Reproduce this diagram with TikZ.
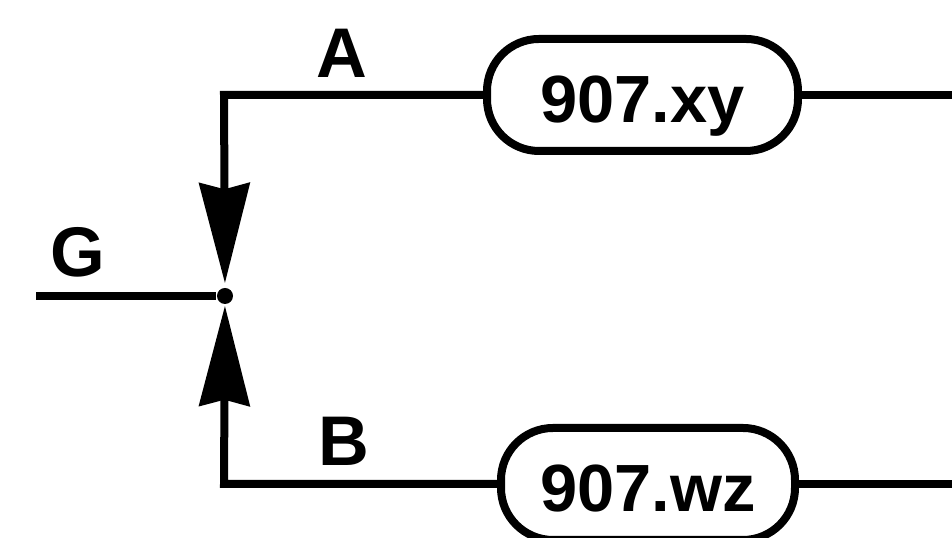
\documentclass[tikz,border=0pt]{standalone}
\usepackage{fontspec}
\setmainfont{Liberation Sans}
\usetikzlibrary{arrows.meta, positioning}

\begin{document}
\begin{tikzpicture}[
    pill/.style={draw, line width=0.08cm, rounded corners=0.52cm,
                 minimum height=1.12cm, inner sep=0pt,
                 text height=0.56cm, text depth=0pt,
                 font=\fontsize{19}{22}\selectfont\bfseries},
    wire/.style={line width=0.08cm},
    tag/.style={inner sep=0pt, font=\fontsize{20}{24}\selectfont\bfseries},
    dot/.style={circle, fill, inner sep=0pt, minimum size=0.16cm},
    tipin/.style={-{Stealth[width=0.5cm, length=1.0cm, inset=0.06cm]}}]
        \useasboundingbox (0, 0) rectangle (9.52, 5.38);
        % Draw the blocks
        \node[pill, minimum width=3.11cm] at (6.425, 4.43) (xy) {907.xy};
        \node[pill, minimum width=2.94cm] at (6.48, 0.54)  (wz) {907.wz};
        \node[dot] at (2.25, 2.42) (j) {};
        % Corners and free ends
        \coordinate (tl)    at (2.24, 4.43);
        \coordinate (bl)    at (2.24, 0.54);
        \coordinate (gin)   at (0.36, 2.42);
        \coordinate (xyout) at (9.6, 4.43);
        \coordinate (wzout) at (9.6, 0.54);
        % Labels
        \node[tag] at (3.42, 4.85) (a) {A};
        \node[tag] at (3.44, 0.97) (b) {B};
        \node[tag] at (0.78, 2.86) (g) {G};
        % Connect the blocks
        \draw[wire] (gin) -- (j);
        \draw[wire] (xy) -- (xyout);
        \draw[wire] (wz) -- (wzout);
        \draw[wire, tipin, shorten >=0.04cm] (xy) -- (tl) -- (j);
        \draw[wire, tipin, shorten >=0.01cm] (wz) -- (bl) -- (j);
\end{tikzpicture}
\end{document}
